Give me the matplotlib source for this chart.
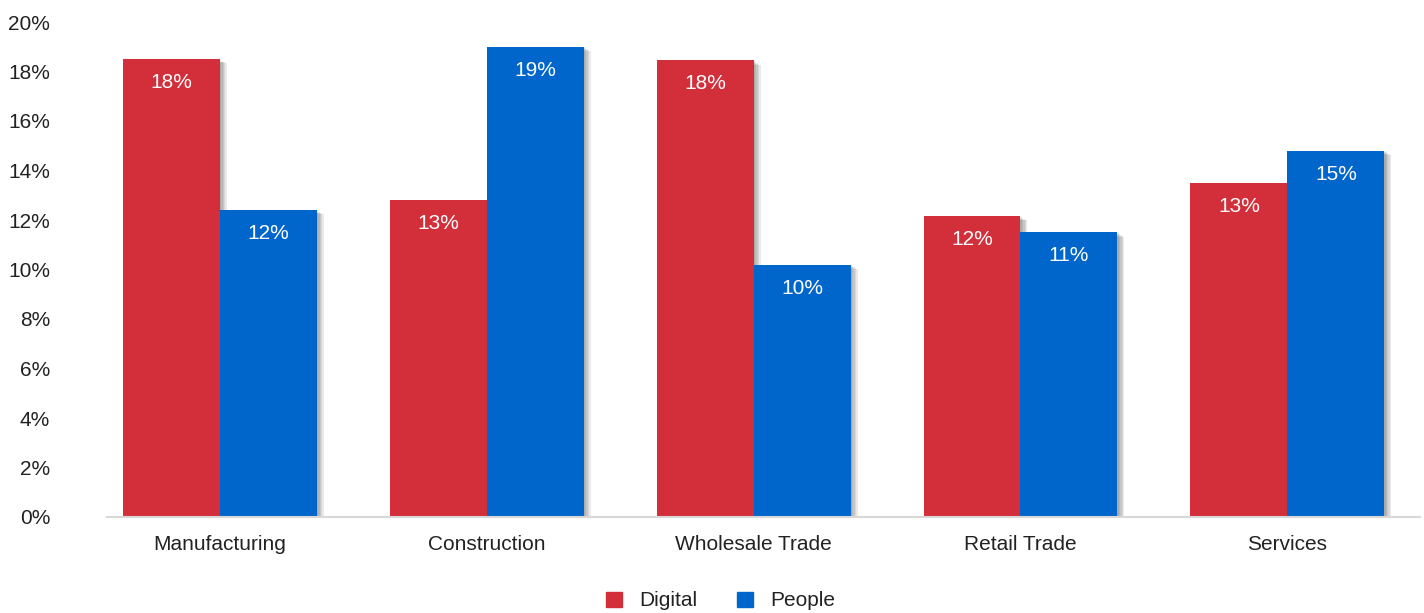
import matplotlib.pyplot as plt
import matplotlib.patheffects as pe
import numpy as np
from matplotlib.patches import Patch

categories = ["Manufacturing", "Construction", "Wholesale Trade", "Retail Trade", "Services"]
digital = [18.5, 12.8, 18.45, 12.15, 13.5]
people = [12.4, 19.0, 10.2, 11.5, 14.8]
digital_labels = ["18%", "13%", "18%", "12%", "13%"]
people_labels = ["12%", "19%", "10%", "11%", "15%"]
yticks = [0, 2, 4, 6, 8, 10, 12, 14, 16, 18, 20]

RED = "#D22F3A"
BLUE = "#0066CC"
TEXT = "#222222"
FS = 15

plt.rcParams["font.family"] = ["Liberation Sans", "DejaVu Sans"]

fig = plt.figure(figsize=(14.24, 6.13), dpi=100)
ax = fig.add_axes([107 / 1424, 1 - 517 / 613, (1420 - 107) / 1424, (517 - 22) / 613])

x = np.arange(len(categories))
w = 97 / 267
# soft drop shadow, built from a few faint offset copies
shadow = [pe.SimplePatchShadow(offset=(d, -d * 0.6), shadow_rgbFace="#333333", alpha=0.1)
          for d in (1, 2, 3, 4, 5)] + [pe.Normal()]
b1 = ax.bar(x - w / 2, digital, w, color=RED, zorder=3, path_effects=shadow)
b2 = ax.bar(x + w / 2, people, w, color=BLUE, zorder=3, path_effects=shadow)

for bars, labels in ((b1, digital_labels), (b2, people_labels)):
    for bar, lab in zip(bars, labels):
        ax.annotate(lab, (bar.get_x() + bar.get_width() / 2, bar.get_height()),
                    xytext=(0, -17), textcoords="offset points",
                    ha="center", va="center", color="white", fontsize=FS, zorder=4)

ax.set_xlim(-0.423, 4.497)
ax.set_ylim(0, 20)
ax.set_yticks(yticks)
ax.set_yticklabels([f"{v}%" for v in yticks], color=TEXT, fontsize=FS)
ax.set_xticks(x)
ax.set_xticklabels(categories, color=TEXT, fontsize=FS)
ax.tick_params(axis="y", length=0, pad=41)
ax.tick_params(axis="x", length=0, pad=13)
for s in ("left", "right", "top"):
    ax.spines[s].set_visible(False)
ax.spines["bottom"].set_color("#d8d8d8")
ax.spines["bottom"].set_linewidth(1.5)
ax.spines["bottom"].set_zorder(5)

handles = [Patch(color=RED, label="Digital"), Patch(color=BLUE, label="People")]
fig.legend(handles=handles, loc="center", bbox_to_anchor=(721 / 1424, 1 - 601 / 613),
           ncol=2, frameon=False, fontsize=FS, handlelength=0.75, handleheight=0.75,
           handletextpad=0.85, columnspacing=1.9, labelcolor=TEXT)

fig.savefig("out.png", dpi=100)
